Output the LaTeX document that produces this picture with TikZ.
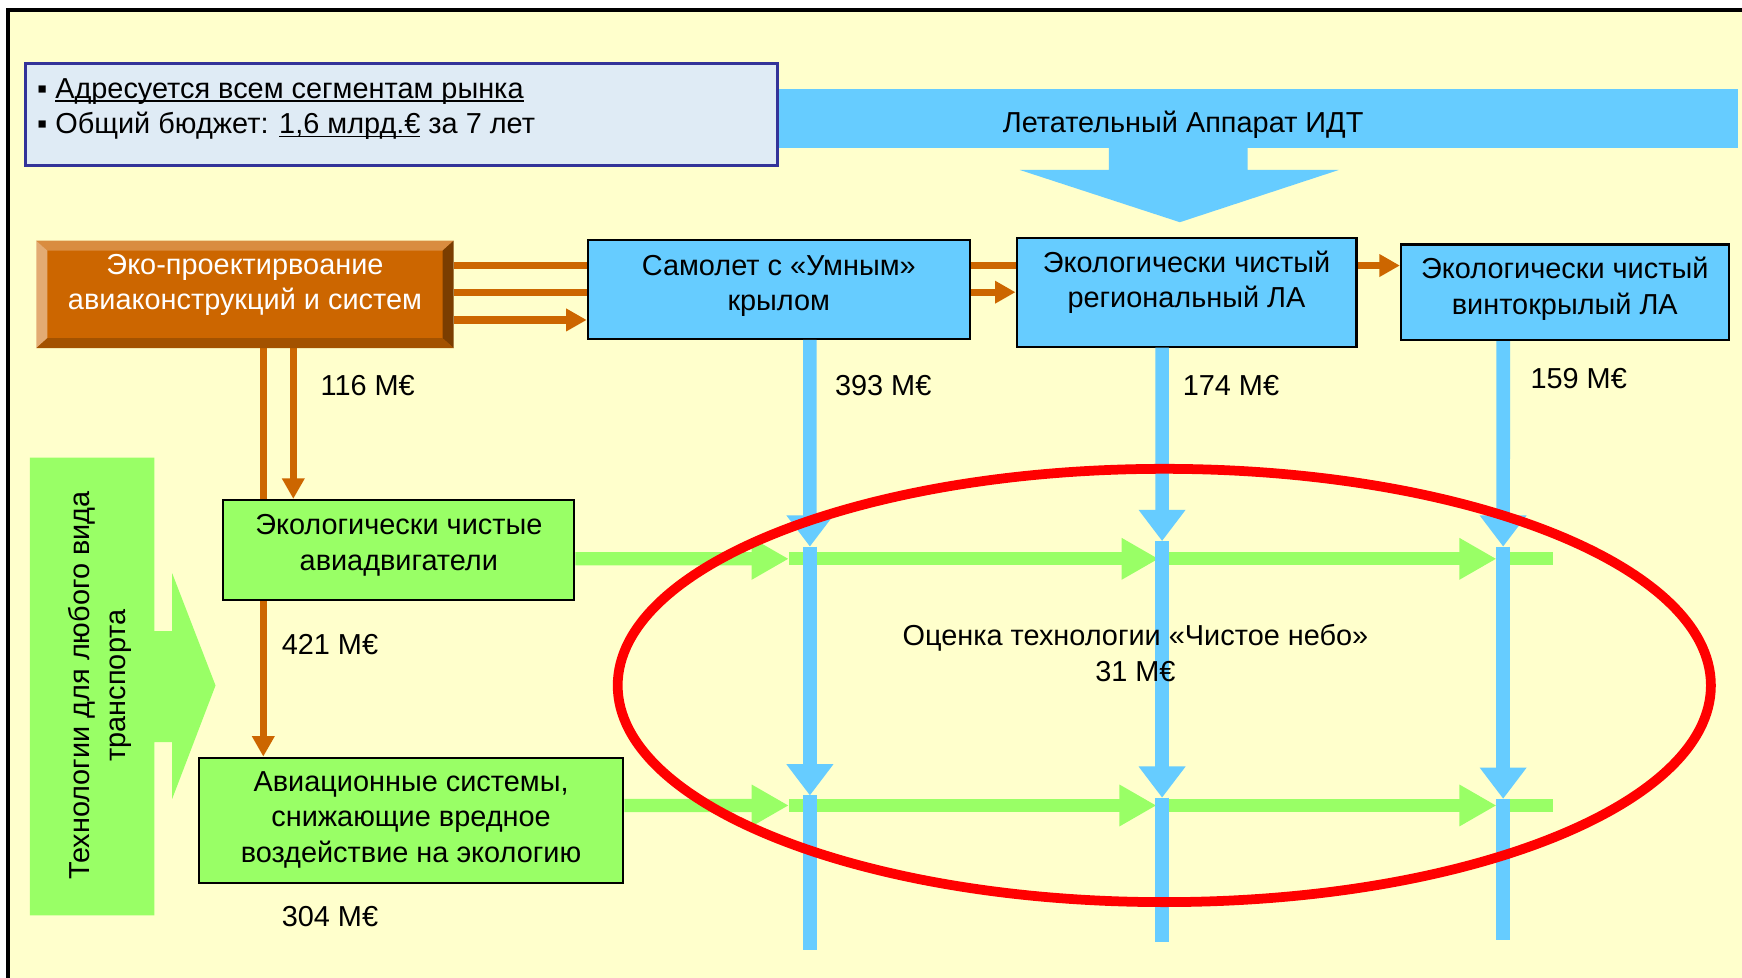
\documentclass[tikz,border=0pt]{standalone}
\usepackage{fontspec}
\setmainfont{Liberation Sans}
\usetikzlibrary{arrows.meta,backgrounds}
\definecolor{paper}{HTML}{FFFFCC}
\definecolor{sky}{HTML}{66CCFF}
\definecolor{leaf}{HTML}{99FF66}
\definecolor{rust}{HTML}{CC6600}
\definecolor{infofill}{HTML}{DFEBF5}
\definecolor{infoline}{HTML}{333399}
\newcommand{\undl}[1]{\setbox0\hbox{#1}\rlap{\rule[-2pt]{\wd0}{0.9pt}}\box0\relax}

\begin{document}
\begin{tikzpicture}[x=0.02cm, y=-0.02cm,
  every node/.style={font=\fontsize{14.8}{18.2}\selectfont, inner sep=0pt, align=center},
  bluebox/.style={draw=black, line width=1.1pt, fill=sky},
  greenbox/.style={draw=black, line width=1.1pt, fill=leaf},
  oline/.style={draw=rust, line width=3.7pt},
  oarr/.style={oline, -{Triangle[length=10.5pt, width=11pt]}},
  bline/.style={draw=sky, line width=7pt},
  barr/.style={bline, -{Triangle[length=16pt, width=23pt]}},
  gline/.style={draw=leaf, line width=6.8pt},
  garr/.style={gline, -{Triangle[length=19pt, width=20pt]}}]
\useasboundingbox (0,0) rectangle (1568,880);
\begin{scope}[on background layer]
\fill[white] (0,0) rectangle (1568,880);
\fill[paper] (7,9) rectangle (1568,880);
\end{scope}
\draw[line width=1.9pt] (7,880) -- (7,9) -- (1568,9);
% aircraft banner
\fill[sky] (690,80) rectangle (1564,133);
\fill[sky] (998,132) -- (1123,132) -- (1123,153) -- (1205,153) -- (1062,200) -- (918,153) -- (998,153) -- cycle;
\node (IDT) at (1065,112) {Летательный Аппарат ИДТ};
\node[draw=infoline, line width=1.7pt, fill=infofill, minimum width=13.54cm, minimum height=1.84cm] (INFO) at (361.5,103) {};
\node[anchor=west, align=left] (INFOTXT) at (33,98) {▪ \undl{Адресуется всем сегментам рынка}\\▪ Общий бюджет: \undl{1,6 млрд.€} за 7 лет};
% boxes
\node[fill=rust, text=white, minimum width=7.5cm, minimum height=1.92cm, text depth=13pt] (ECO) at (220.5,265) {Эко-проектирвоание\\авиаконструкций и систем};
\fill[rust!75!white] (ECO.north west) -- (ECO.north east) -- ([shift={(-10,9)}]ECO.north east) -- ([shift={(10,9)}]ECO.north west) -- cycle;
\fill[rust!55!white] (ECO.north west) -- ([shift={(10,9)}]ECO.north west) -- ([shift={(10,-9)}]ECO.south west) -- (ECO.south west) -- cycle;
\fill[rust!60!black] (ECO.north east) -- (ECO.south east) -- ([shift={(-10,-9)}]ECO.south east) -- ([shift={(-10,9)}]ECO.north east) -- cycle;
\fill[rust!80!black] (ECO.south west) -- (ECO.south east) -- ([shift={(-10,-9)}]ECO.south east) -- ([shift={(10,-9)}]ECO.south west) -- cycle;
\node[bluebox, minimum width=6.88cm, minimum height=1.78cm, text depth=6.6pt] (WING) at (701,260.5) {Самолет с «Умным»\\крылом};
\node[bluebox, minimum width=6.12cm, minimum height=1.96cm, text depth=13pt] (REG) at (1068,263) {Экологически чистый\\региональный ЛА};
\node[bluebox, minimum width=5.9cm, minimum height=1.72cm, text depth=6.7pt] (ROT) at (1408.5,263) {Экологически чистый\\винтокрылый ЛА};
\node[greenbox, minimum width=6.32cm, minimum height=1.8cm, text depth=7.7pt] (ENG) at (359,495) {Экологически чистые\\авиадвигатели};
\node[greenbox, minimum width=7.64cm, minimum height=2.26cm, text depth=3.5pt] (SYS) at (370,738.5) {Авиационные системы,\\снижающие вредное\\воздействие на экологию};
\begin{scope}[on background layer]
\draw[oarr] ([yshift=0.52cm]ECO.east) -- ([yshift=0.52cm]ECO.east -| ROT.west);
\draw[oarr] ([yshift=0.04cm]ECO.east) -- ([yshift=0.04cm]ECO.east -| REG.west);
\draw[oarr] ([yshift=-0.46cm]ECO.east) -- ([yshift=-0.46cm]ECO.east -| WING.west);
\draw[oarr] ([xshift=0.87cm]ECO.south) -- ([xshift=0.87cm]ECO.south |- ENG.north);
\draw[oarr] ([xshift=0.33cm]ECO.south) -- ([xshift=0.33cm]ECO.south |- SYS.north);
\end{scope}
% any transport
\fill[leaf] (27,412) -- (139,412) -- (139,568) -- (155,568) -- (155,516) -- (194,617) -- (155,719) -- (155,668) -- (139,668) -- (139,824) -- (27,824) -- cycle;
\node[rotate=90] (ANY) at (90,617) {Технологии для любого вида\\транспорта};
% green rows
\coordinate (E1) at (710,503);
\coordinate (E2) at (1043,503);
\coordinate (E3) at (1347,503);
\coordinate (E4) at (1398,503);
\coordinate (S1) at (710,725);
\coordinate (S2) at (1041,725);
\coordinate (S3) at (1347,725);
\coordinate (S4) at (1398,725);
\draw[garr] ([yshift=-0.16cm]ENG.east) -- (E1);
\draw[garr] (E1) -- (E2);
\draw[garr] (E2) -- (E3);
\draw[gline] (E3) -- (E4);
\draw[garr] ([yshift=0.27cm]SYS.east) -- (S1);
\draw[garr] (S1) -- (S2);
\draw[garr] (S2) -- (S3);
\draw[gline] (S3) -- (S4);
% blue lines
\coordinate (A1) at (729,492);
\coordinate (A2) at (729,716);
\coordinate (A3) at (729,855);
\coordinate (B1) at (1046,487);
\coordinate (B2) at (1046,718);
\coordinate (B3) at (1046,848);
\coordinate (C1) at (1353,492);
\coordinate (C2) at (1353,719);
\coordinate (C3) at (1353,846);
\draw[barr] ([xshift=0.56cm]WING.south) -- (A1);
\draw[barr] (A1) -- (A2);
\draw[bline] (A2) -- (A3);
\draw[barr] ([xshift=-0.44cm]REG.south) -- (B1);
\draw[barr] (B1) -- (B2);
\draw[bline] (B2) -- (B3);
\draw[barr] ([xshift=-1.11cm]ROT.south) -- (C1);
\draw[barr] (C1) -- (C2);
\draw[bline] (C2) -- (C3);
\draw[red, line width=5pt] (1048,617) ellipse [x radius=492, y radius=195];
\node (SKY) at (1022,588) {Оценка технологии «Чистое небо»\\31 М€};
% budgets
\node (M116) at (331,347) {116 М€};
\node (M421) at (297,580) {421 М€};
\node (M304) at (297,825) {304 М€};
\node (M393) at (795,347) {393 М€};
\node (M174) at (1108,347) {174 М€};
\node (M159) at (1421,341) {159 М€};
\end{tikzpicture}
\end{document}
